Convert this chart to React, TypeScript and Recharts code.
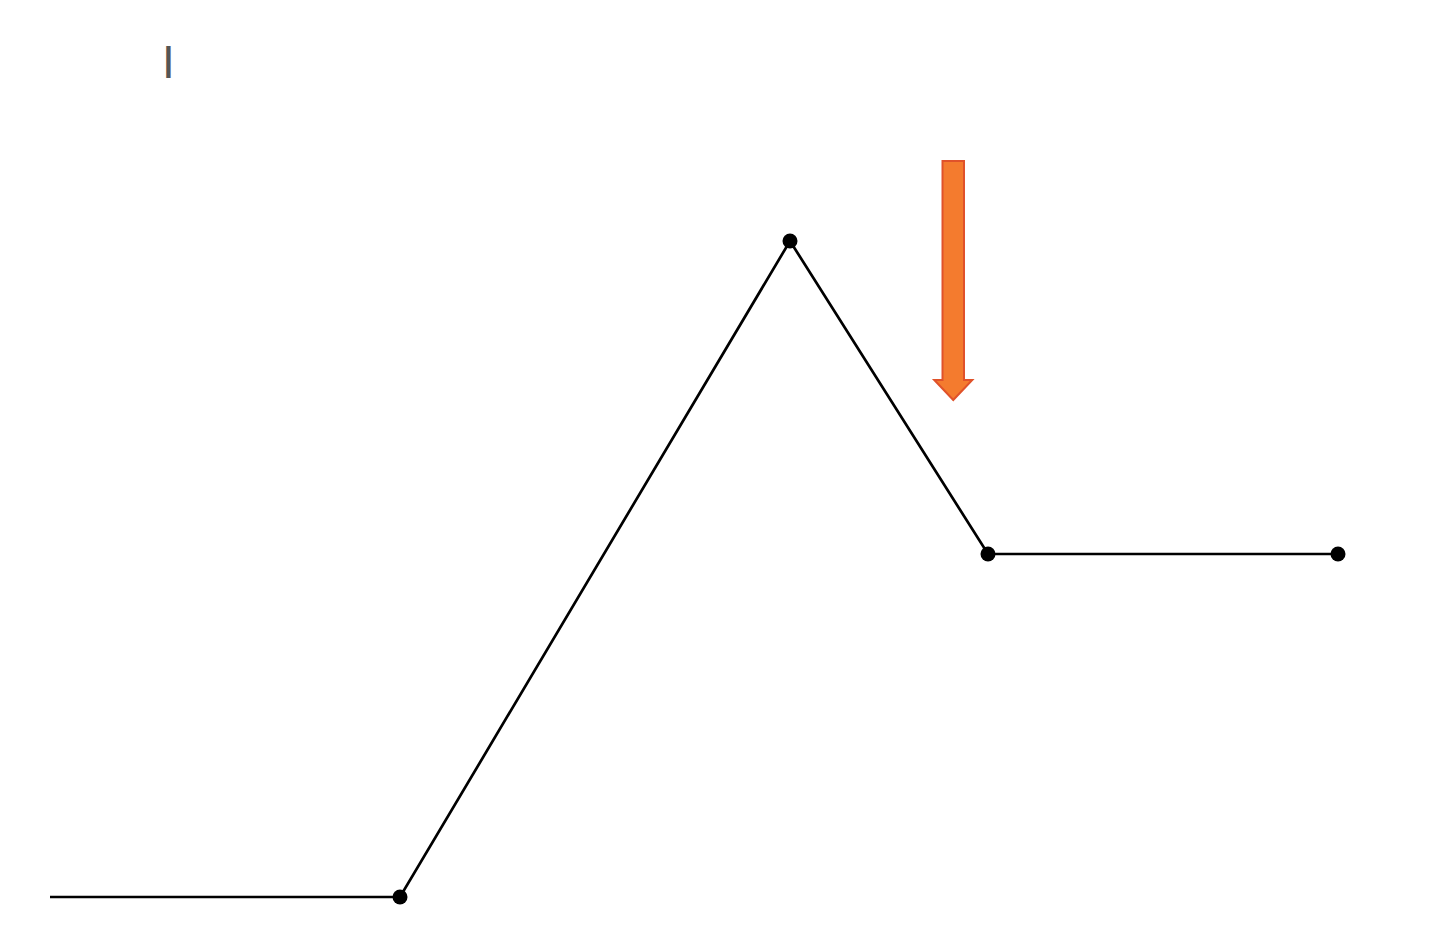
import React from "react";
import { LineChart, Line, XAxis, YAxis, ReferenceArea } from "recharts";

const xs = [0, 350, 740, 938, 1288];
const energy = [0, 0, 656, 343, 343];
const showDot = [false, true, true, true, true];
const arrowX = [892.5, 914];
const arrowY = [497, 736];
const cursorLabel = "I";

const data = xs.map((x, i) => ({ x, y: energy[i] }));

const Dot = (props: any) => {
  const { cx, cy, index } = props;
  if (!showDot[index]) return <g key={`d${index}`} />;
  return <circle key={`d${index}`} cx={cx} cy={cy} r={7.5} fill="#000" />;
};

const Arrow = (props: any) => {
  const { x, y, width, height } = props;
  const cx = x + width / 2;
  const headH = 20;
  const headW = 38;
  const bottom = y + height;
  const pts = [
    [x, y],
    [x + width, y],
    [x + width, bottom - headH],
    [cx + headW / 2, bottom - headH],
    [cx, bottom],
    [cx - headW / 2, bottom - headH],
    [x, bottom - headH],
  ]
    .map((p) => p.join(","))
    .join(" ");
  return <polygon points={pts} fill="#F47B2E" stroke="#E0522A" strokeWidth={2} />;
};

export default function App() {
  return (
    <div style={{ position: "absolute", left: 0, top: 0, width: 1440, height: 933, background: "#fff" }}>
      <LineChart width={1440} height={933} data={data} margin={{ top: 0, right: 102, bottom: 36, left: 50 }}>
        <XAxis dataKey="x" type="number" domain={[0, 1288]} hide />
        <YAxis type="number" domain={[0, 897]} hide />
        <ReferenceArea x1={arrowX[0]} x2={arrowX[1]} y1={arrowY[0]} y2={arrowY[1]} shape={<Arrow />} />
        <Line
          dataKey="y"
          stroke="#000"
          strokeWidth={2.7}
          dot={<Dot />}
          activeDot={false}
          isAnimationActive={false}
        />
      </LineChart>
      <svg width={1440} height={933} style={{ position: "absolute", left: 0, top: 0, pointerEvents: "none" }}>
        <text x={162} y={78} fontFamily="Liberation Sans, Arial, sans-serif" fontSize={46} fill="#555">
          {cursorLabel}
        </text>
      </svg>
    </div>
  );
}
